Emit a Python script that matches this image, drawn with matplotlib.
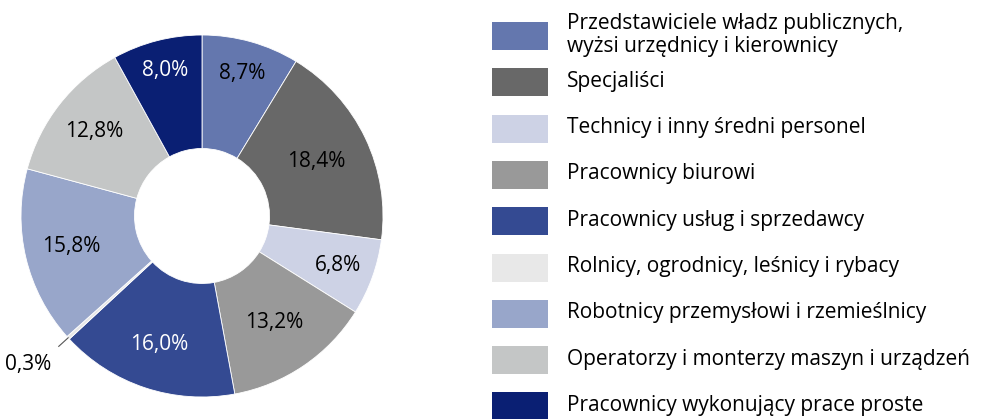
import numpy as np
import matplotlib
matplotlib.use("Agg")
import matplotlib.pyplot as plt
from matplotlib.patches import Rectangle

plt.rcParams['font.family'] = ['Open Sans', 'DejaVu Sans']

categories = [
    "Przedstawiciele władz publicznych,\nwyżsi urzędnicy i kierownicy",
    "Specjaliści",
    "Technicy i inny średni personel",
    "Pracownicy biurowi",
    "Pracownicy usług i sprzedawcy",
    "Rolnicy, ogrodnicy, leśnicy i rybacy",
    "Robotnicy przemysłowi i rzemieślnicy",
    "Operatorzy i monterzy maszyn i urządzeń",
    "Pracownicy wykonujący prace proste",
]
shares = [8.7, 18.4, 6.8, 13.2, 16.0, 0.3, 15.8, 12.8, 8.0]
labels = ["8,7%", "18,4%", "6,8%", "13,2%", "16,0%", "0,3%", "15,8%", "12,8%", "8,0%"]

colors = ['#6477AE', '#686868', '#CDD2E5', '#999999', '#344A92',
          '#E8E8E8', '#98A6CA', '#C4C6C6', '#0A1F73']
text_colors = ['black', 'black', 'black', 'black', 'white',
               'black', 'black', 'black', 'white']
# radial position of each label (fraction of outer radius)
label_r = [0.82, 0.70, 0.80, 0.71, 0.75, None, 0.74, 0.76, 0.83]

W, H = 995, 419
fig = plt.figure(figsize=(W / 100, H / 100), dpi=100)

cx, cy, R = 202, 216, 181
ax = fig.add_axes([(cx - R) / W, (H - cy - R) / H, 2 * R / W, 2 * R / H])

wedges, _ = ax.pie(shares, colors=colors, startangle=90, counterclock=False,
                   radius=1.0, wedgeprops=dict(width=0.627, edgecolor='white', linewidth=0.6))
ax.set_xlim(-1, 1)
ax.set_ylim(-1, 1)
ax.set_aspect('equal')
ax.axis('off')

fs = 15
for w, lab, tc, r in zip(wedges, labels, text_colors, label_r):
    ang = np.deg2rad((w.theta1 + w.theta2) / 2)
    x, y = np.cos(ang), np.sin(ang)
    if r is None:
        ax.plot([x * 1.0, x * 1.07], [y * 1.0, y * 1.07], color='#555555', lw=0.8, clip_on=False)
        ax.text(x * 1.07 - 0.17, y * 1.07 - 0.1, lab, ha='center', va='center',
                fontsize=fs, color=tc, clip_on=False)
    else:
        ax.text(x * r, y * r, lab, ha='center', va='center', fontsize=fs, color=tc)

# legend: fixed row pitch, drawn in figure pixels
lx, ly0, pitch = 492, 36, 46.3
pw, ph = 56, 28
for i, (c, name) in enumerate(zip(colors, categories)):
    yc = ly0 + i * pitch
    fig.add_artist(Rectangle((lx / W, 1 - (yc + ph / 2) / H), pw / W, ph / H,
                             transform=fig.transFigure, facecolor=c, edgecolor='none'))
    fig.text(567 / W, 1 - (yc - 1) / H, name, ha='left', va='center',
             fontsize=fs, color='black', linespacing=1.15)

fig.savefig("out.png", dpi=100)
